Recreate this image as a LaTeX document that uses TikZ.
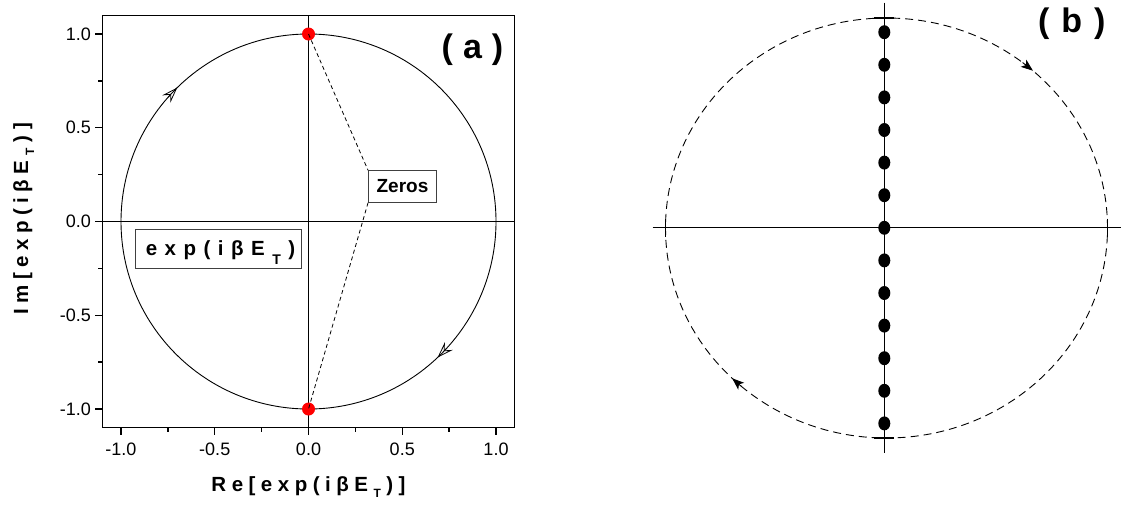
\documentclass[tikz,border=0pt]{standalone}
\usepackage{fontspec}
\setmainfont{Liberation Sans}
\usetikzlibrary{arrows.meta,shapes.geometric}
\newcommand\lsp{\hspace{7.5pt}}
\newcommand\tsp{\hspace{5.5pt}}
\begin{document}
\begin{tikzpicture}[x=1pt,y=-1pt,
  framestyle/.style={line width=1.3pt},
  axline/.style={line width=1.1pt},
  curveline/.style={line width=0.9pt},
  ticklab/.style={font=\fontsize{18}{18}\selectfont, inner sep=0pt},
  titlefont/.style={font=\fontsize{20.5}{20.5}\selectfont\bfseries, inner sep=0pt},
  reddot/.style={circle, fill=red, minimum size=13pt, inner sep=0pt},
  bdot/.style={ellipse, fill=black, minimum width=12pt, minimum height=14pt, inner sep=0pt},
  zdash/.style={dash pattern=on 4pt off 3pt, line width=0.8pt},
  bdash/.style={dash pattern=on 8pt off 5pt, line width=0.9pt},
  openarrow/.style={-{Stealth[open, length=16pt, width=11pt, inset=6pt]}, line width=0.8pt},
  fillarrow/.style={-{Stealth[length=12pt, width=9pt, inset=3pt]}, line width=0.9pt},
  labbox/.style={draw=black!75, line width=0.9pt, inner sep=0pt},
]
\useasboundingbox (0,0) rectangle (1121,504);

% ---------- panel (a) ----------
\draw[framestyle] (102.25,15.25) rectangle (514.75,427.75);
\draw[axline] (308.5,15.25) -- (308.5,427.75);
\draw[axline] (102.25,221.5) -- (514.75,221.5);
\draw[curveline] (308.5,221.5) circle[radius=187.5pt];

\foreach \v in {-1,-0.5,0,0.5,1} {
  \draw[framestyle] ({308.5+187.5*\v},427.75) -- ++(0,7);
  \draw[framestyle] (102.25,{221.5-187.5*\v}) -- ++(-7,0);
}
\foreach \v in {-0.75,-0.25,0.25,0.75} {
  \draw[framestyle] ({308.5+187.5*\v},427.75) -- ++(0,4);
  \draw[framestyle] (102.25,{221.5-187.5*\v}) -- ++(-4,0);
}
\foreach \v/\t [count=\i] in {-1/-1.0,-0.5/-0.5,0/0.0,0.5/0.5,1/1.0} {
  \node[ticklab, anchor=base] (xl\i) at ({308.5+187.5*\v},455) {\t};
  \node[ticklab, anchor=east] (yl\i) at (91,{221.5-187.5*\v}) {\t};
}

\node[titlefont, anchor=base] (xtitle) at (308.5,491.7)
  {R\tsp e\tsp [\tsp e\tsp x\tsp p\tsp (\tsp i\tsp β\tsp E\tsp\raisebox{-6pt}{\fontsize{12}{12}\selectfont T}\tsp )\tsp ]};
\node[titlefont, anchor=base, rotate=90] (ytitle) at (28,219)
  {I\tsp m\tsp [\tsp e\tsp x\tsp p\tsp (\tsp i\tsp β\tsp E\tsp\raisebox{-6pt}{\fontsize{12}{12}\selectfont T}\tsp )\tsp ]};

\node[font=\fontsize{34}{34}\selectfont\bfseries, anchor=base, inner sep=0pt] (laba) at (472.5,58.3)
  {(\hspace{10pt}a\hspace{10pt})};

\node[labbox, minimum width=68pt, minimum height=31.5pt, font=\fontsize{19}{19}\selectfont\bfseries] (zeros) at (402.5,186.5) {Zeros};

\node[labbox, minimum width=166pt, minimum height=39pt, text height=26.5pt, text depth=12.5pt,
      font=\fontsize{20.5}{20.5}\selectfont\bfseries] (expbox) at (218,248.8)
  {\hspace*{5pt}e\lsp x\lsp p\lsp (\lsp i\lsp β\lsp E\lsp\raisebox{-9pt}{\fontsize{14}{14}\selectfont T}\lsp )};

\node[reddot] (ztop) at (308.5,34) {};
\node[reddot] (zbot) at (308.5,409) {};
\draw[zdash] (ztop.center) -- (zeros.north west);
\draw[zdash] (zeros.south west) -- (zbot.center);

\coordinate (a1s) at ({308.5+187.5*cos(138.5)},{221.5-187.5*sin(138.5)});
\coordinate (a1e) at ({308.5+187.5*cos(134.4)},{221.5-187.5*sin(134.4)});
\draw[openarrow] (a1s) -- (a1e);
\coordinate (a2s) at ({308.5+187.5*cos(-42.5)},{221.5-187.5*sin(-42.5)});
\coordinate (a2e) at ({308.5+187.5*cos(-46.5)},{221.5-187.5*sin(-46.5)});
\draw[openarrow] (a2s) -- (a2e);

% ---------- panel (b) ----------
\draw[line width=1.2pt] (652.7,227.7) -- (1121,227.7);
\draw[line width=1.5pt] (884.3,2.7) -- (884.3,452.7);
\draw[bdash] (886.5,228) ellipse[x radius=221pt, y radius=210pt];

\draw[line width=1.1pt] (665.5,218.7) -- (665.5,236.7);
\draw[line width=1.1pt] (1107.5,218.7) -- (1107.5,236.7);
\draw[line width=1.1pt] (874.3,18) -- (894.3,18);
\draw[line width=1.1pt] (874.3,438) -- (894.3,438);

\foreach \k [count=\i] in {-6,...,6} {
  \node[bdot] (d\i) at (884.3,{227.8+32.6*\k}) {};
}

\coordinate (b1s) at ({886.5+221*cos(52)},{228-210*sin(52)});
\coordinate (b1e) at ({886.5+221*cos(48.5)},{228-210*sin(48.5)});
\draw[fillarrow] (b1s) -- (b1e);
\coordinate (b2s) at ({886.5+221*cos(229)},{228-210*sin(229)});
\coordinate (b2e) at ({886.5+221*cos(225.7)},{228-210*sin(225.7)});
\draw[fillarrow] (b2s) -- (b2e);

\node[font=\fontsize{34}{34}\selectfont\bfseries, anchor=base, inner sep=0pt] (labb) at (1071.7,32)
  {(\hspace{12pt}b\hspace{12pt})};
\end{tikzpicture}
\end{document}
